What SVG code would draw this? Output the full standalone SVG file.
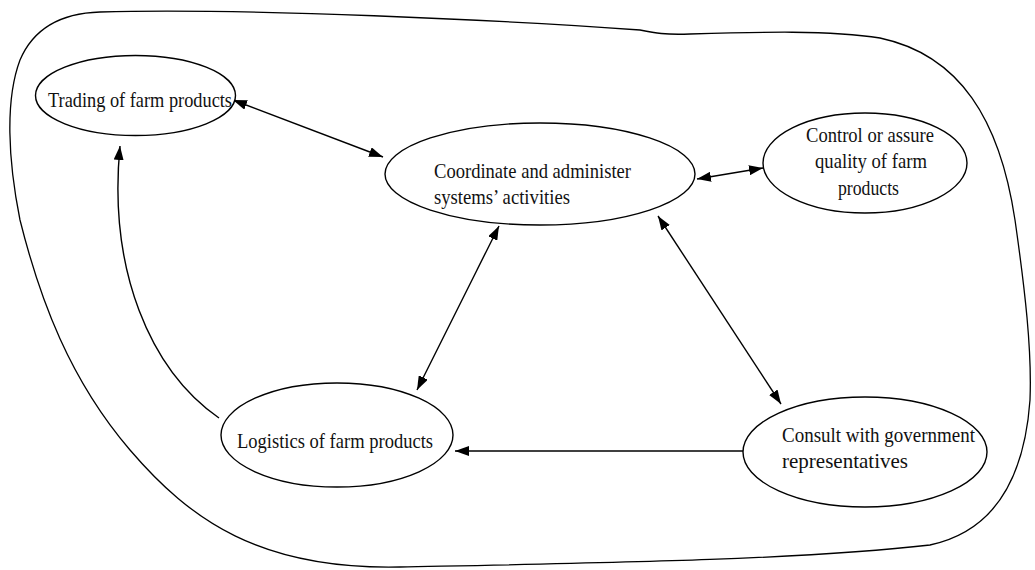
<svg xmlns="http://www.w3.org/2000/svg" width="1035" height="570" viewBox="0 0 1035 570">
  <style>
    .node { fill: #ffffff; stroke: #000000; stroke-width: 1.4; }
    .label { font-family: "Liberation Serif", "Times New Roman", serif; font-size: 22px; fill: #111111; }
    .edge { fill: none; stroke: #000000; stroke-width: 1.4; }
    .boundary { fill: none; stroke: #000000; stroke-width: 1.3; }
  </style>
  <defs>
    <marker id="arrow" viewBox="0 0 14 10" refX="14" refY="5" markerWidth="14" markerHeight="10" markerUnits="userSpaceOnUse" orient="auto-start-reverse">
      <path d="M0,0 L14,5 L0,10 z" fill="#000000"/>
    </marker>
  </defs>

  <rect width="1035" height="570" fill="#ffffff"/>

  <!-- system boundary -->
  <path class="boundary" d="M 100 12 C 250 8, 500 20, 640 30 C 655 33, 665 35, 690 34 C 760 32, 830 30, 880 38 C 960 55, 1000 120, 1015 220 C 1025 290, 1032 350, 1030 400 C 1025 470, 1000 530, 930 545 C 800 560, 600 563, 400 567 C 260 570, 190 520, 130 450 C 70 380, 40 300, 20 220 C 8 160, 5 100, 20 60 C 35 25, 65 13, 100 12 Z"/>

  <!-- connectors -->
  <g id="connectors">
    <line class="edge" x1="233" y1="100" x2="383" y2="157" marker-start="url(#arrow)" marker-end="url(#arrow)"/>
    <line class="edge" x1="697" y1="179" x2="763" y2="168" marker-start="url(#arrow)" marker-end="url(#arrow)"/>
    <line class="edge" x1="499" y1="226" x2="417" y2="390" marker-start="url(#arrow)" marker-end="url(#arrow)"/>
    <line class="edge" x1="658" y1="216" x2="781" y2="404" marker-start="url(#arrow)" marker-end="url(#arrow)"/>
    <line class="edge" x1="743" y1="451" x2="455" y2="451" marker-end="url(#arrow)"/>
    <path class="edge" d="M 219 418 C 150 370, 108 270, 120 146" marker-end="url(#arrow)"/>
  </g>

  <g id="trading">
    <ellipse class="node" cx="135.5" cy="95.5" rx="100" ry="40"/>
    <text class="label" x="48" y="107" textLength="184" lengthAdjust="spacingAndGlyphs">Trading of farm products</text>
  </g>

  <g id="coordinate">
    <ellipse class="node" cx="540" cy="174" rx="155" ry="51"/>
    <text class="label" x="434" y="178" textLength="197" lengthAdjust="spacingAndGlyphs">Coordinate and administer</text>
    <text class="label" x="434" y="204" textLength="136" lengthAdjust="spacingAndGlyphs">systems’ activities</text>
  </g>

  <g id="quality">
    <ellipse class="node" cx="865" cy="163" rx="102" ry="50"/>
    <text class="label" x="806" y="142" textLength="128" lengthAdjust="spacingAndGlyphs">Control or assure</text>
    <text class="label" x="815" y="168" textLength="112" lengthAdjust="spacingAndGlyphs">quality of farm</text>
    <text class="label" x="838" y="195" textLength="61" lengthAdjust="spacingAndGlyphs">products</text>
  </g>

  <g id="logistics">
    <ellipse class="node" cx="337" cy="435" rx="116" ry="52"/>
    <text class="label" x="237" y="448" textLength="196" lengthAdjust="spacingAndGlyphs">Logistics of farm products</text>
  </g>

  <g id="consult">
    <ellipse class="node" cx="865" cy="452" rx="122" ry="55"/>
    <text class="label" x="782" y="442" textLength="193" lengthAdjust="spacingAndGlyphs">Consult with government</text>
    <text class="label" x="782" y="468" textLength="126" lengthAdjust="spacingAndGlyphs">representatives</text>
  </g>
</svg>
